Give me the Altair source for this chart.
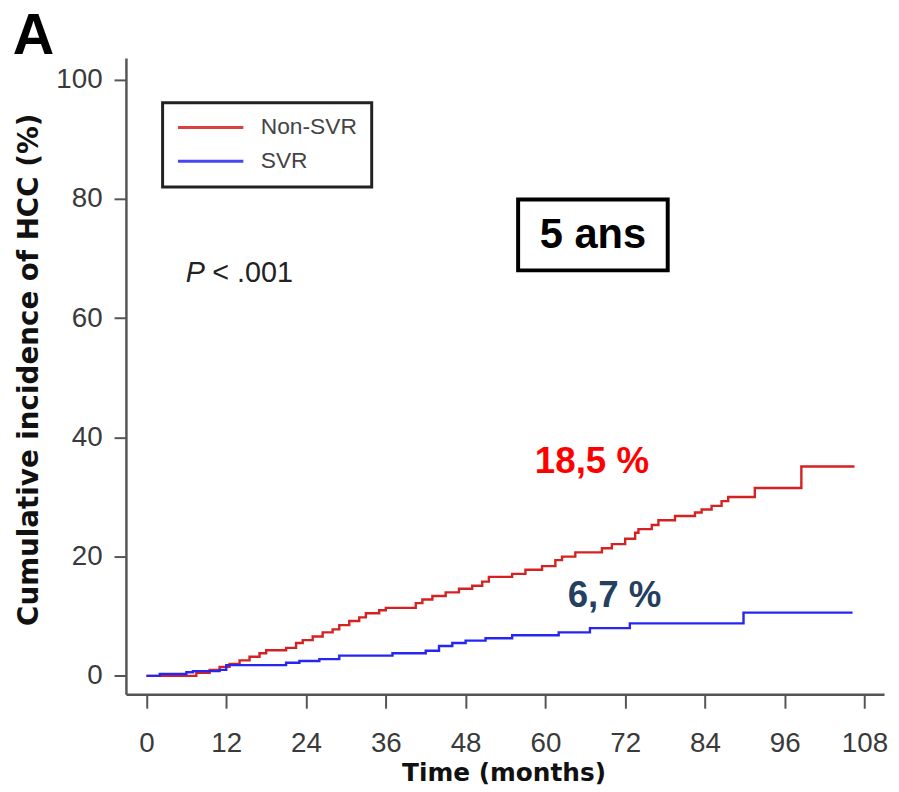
import altair as alt
import pandas as pd

# ---- data ----
groups = ["Non-SVR", "SVR"]
colors = ["#d42222", "#2626f2"]

red_months = [0, 7.5, 9.5, 11, 12.5, 14, 15.5, 17, 18, 21, 22.5, 23.5, 25, 26.5, 28, 29, 30.5, 32, 33, 35, 36,
              40.5, 41.5, 43, 45, 47, 49, 50.5, 51.5, 55, 57, 59.5, 61.5, 62.5, 64.5, 68.5, 70, 72, 73.5, 74,
              76, 77, 79.5, 82.5, 83.5, 85, 86.5, 87.5, 91.5, 98.5, 106.5]
red_vals = [0, 0.5, 1.0, 1.5, 2.0, 2.6, 3.2, 3.8, 4.3, 4.7, 5.5, 6.0, 6.6, 7.3, 7.8, 8.5, 9.2, 9.8, 10.5, 11.0, 11.4,
            12.2, 12.8, 13.4, 14.0, 14.6, 15.1, 15.8, 16.6, 17.1, 17.8, 18.4, 19.4, 20.0, 20.7, 21.4, 22.1, 23.0, 24.0, 24.6,
            25.3, 26.1, 26.8, 27.4, 27.9, 28.5, 29.3, 30.0, 31.5, 35.1, 35.1]

blue_months = [0, 2, 6, 7, 11, 12, 21, 23, 26, 29, 37, 42, 44, 46, 48, 51, 55, 62, 66.7, 72.7, 89.8, 106.2]
blue_vals = [0, 0.3, 0.6, 0.8, 1.0, 1.8, 2.2, 2.5, 2.8, 3.4, 3.8, 4.2, 5.0, 5.5, 5.9, 6.3, 6.8, 7.3, 8.0, 8.8, 10.6, 10.6]

x_ticks = [0, 12, 24, 36, 48, 60, 72, 84, 96, 108]
y_ticks = [0, 20, 40, 60, 80, 100]

# annotations (text, month, percent, colour)
ann_text = ["18,5 %", "6,7 %"]
ann_x = [67.0, 70.4]
ann_y = [35.8, 13.4]
ann_color = ["#ff0000", "#243f60"]

box_label = "5 ans"
box_x = [55.9, 78.4]
box_y = [79.9, 68.0]

p_italic = "P"
p_rest = "< .001"
p_x = [5.9, 9.9]
p_y = 67.6
panel_label = "A"
panel_xy = [-17.0, 104.3]

# ---- tables ----
curve = pd.DataFrame(
    [{"month": m, "pct": v, "group": groups[0]} for m, v in zip(red_months, red_vals)]
    + [{"month": m, "pct": v, "group": groups[1]} for m, v in zip(blue_months, blue_vals)]
)
ann = pd.DataFrame({"t": ann_text, "x": ann_x, "y": ann_y, "c": ann_color})
box = pd.DataFrame({"x": [box_x[0]], "x2": [box_x[1]], "y": [box_y[0]], "y2": [box_y[1]],
                    "t": [box_label], "xm": [(box_x[0] + box_x[1]) / 2], "ym": [(box_y[0] + box_y[1]) / 2]})
p1 = pd.DataFrame({"t": [p_italic], "x": [p_x[0]], "y": [p_y]})
p2 = pd.DataFrame({"t": [p_rest], "x": [p_x[1]], "y": [p_y]})
panel = pd.DataFrame({"t": [panel_label], "x": [panel_xy[0]], "y": [panel_xy[1]]})

xs = alt.Scale(domain=[-3.09, 110.94], nice=False, zero=False)
ys = alt.Scale(domain=[-3.1, 103.6], nice=False, zero=False)

lines = alt.Chart(curve).mark_line(interpolate="step-after", strokeWidth=2.4).encode(
    x=alt.X("month:Q", scale=xs, axis=alt.Axis(
        values=x_ticks, title="Time (months)", titleX=381, titleY=79, titleBaseline="middle",
        labelBaseline="middle", labelPadding=36, tickSize=14)),
    y=alt.Y("pct:Q", scale=ys, axis=alt.Axis(
        values=y_ticks, title="Cumulative incidence of HCC (%)", titleAngle=270, titleX=-97, titleY=314,
        titleBaseline="middle", titleAlign="center", tickSize=12, labelPadding=12)),
    color=alt.Color("group:N", scale=alt.Scale(domain=groups, range=colors),
                    legend=alt.Legend(title=None, orient="none", legendX=37, legendY=45)),
    order=alt.Order("month:Q"),
)

ann_marks = alt.Chart(ann).mark_text(font="Liberation Sans", fontWeight="bold", fontSize=37,
                                     align="center", baseline="middle").encode(
    x=alt.X("x:Q", scale=xs), y=alt.Y("y:Q", scale=ys), text="t:N",
    color=alt.Color("c:N", scale=None))

box_rect = alt.Chart(box).mark_rect(fill="white", stroke="#000", strokeWidth=4).encode(
    x=alt.X("x:Q", scale=xs), x2="x2:Q", y=alt.Y("y:Q", scale=ys), y2="y2:Q")
box_text = alt.Chart(box).mark_text(font="Liberation Sans", fontWeight="bold", fontSize=42,
                                    align="center", baseline="middle", color="#000").encode(
    x=alt.X("xm:Q", scale=xs), y=alt.Y("ym:Q", scale=ys), text="t:N")

p_mark1 = alt.Chart(p1).mark_text(font="Liberation Sans", fontSize=29, fontStyle="italic", align="left",
                                  baseline="middle", color="#222").encode(
    x=alt.X("x:Q", scale=xs), y=alt.Y("y:Q", scale=ys), text="t:N")
p_mark2 = alt.Chart(p2).mark_text(font="Liberation Sans", fontSize=29, align="left",
                                  baseline="middle", color="#222").encode(
    x=alt.X("x:Q", scale=xs), y=alt.Y("y:Q", scale=ys), text="t:N")

panel_mark = alt.Chart(panel).mark_text(font="Liberation Sans", fontWeight="bold", fontSize=58,
                                        align="center", baseline="alphabetic", color="#000").encode(
    x=alt.X("x:Q", scale=xs), y=alt.Y("y:Q", scale=ys), text="t:N")

chart = alt.layer(lines, box_rect, box_text, ann_marks, p_mark1, p_mark2, panel_mark).properties(
    width=765, height=642,
    autosize=alt.AutoSizeParams(type="none"),
    padding={"left": 119, "top": 47, "right": 7, "bottom": 95},
).configure_view(stroke=None).configure_axis(
    grid=False, domainColor="#555", domainWidth=2.5, tickColor="#555", tickWidth=2,
    labelFont="Liberation Sans", labelFontSize=28, labelColor="#3a3a3a",
    labelFlush=False, labelOverlap=False,
    titleFont="DejaVu Sans", titleFontWeight="bold", titleColor="#111",
).configure_axisX(titleFontSize=25).configure_axisY(titleFontSize=28).configure_legend(
    strokeColor="#222", strokeWidth=3, padding=14, rowPadding=11, clipHeight=22,
    symbolType="stroke", symbolSize=4356, symbolStrokeWidth=3, symbolOpacity=0.85,
    labelFont="Liberation Sans", labelFontSize=23, labelColor="#444", labelOffset=16,
)

chart.save("out.html", embed_options={"renderer": "svg", "actions": False})
